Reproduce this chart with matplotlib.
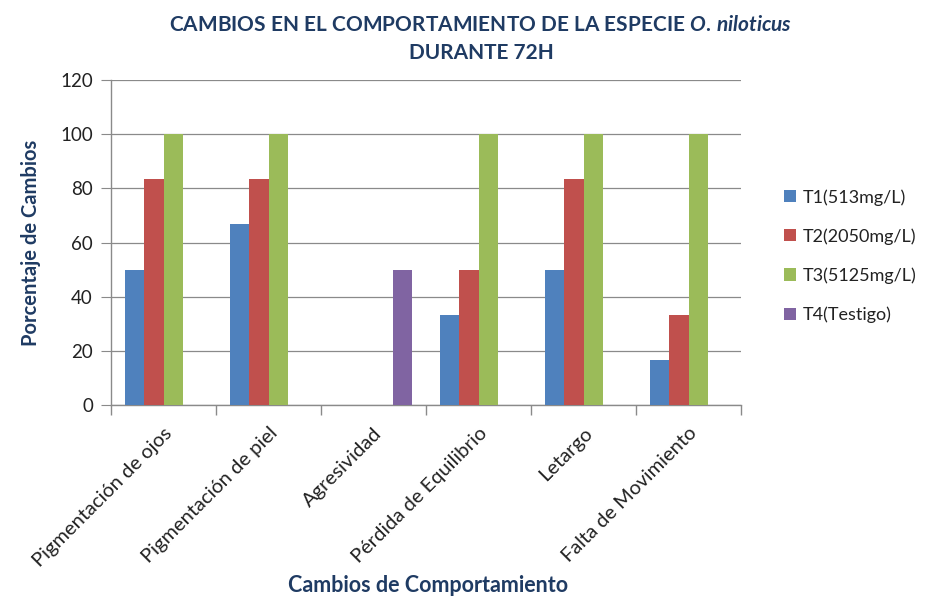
import matplotlib
matplotlib.use("Agg")
import matplotlib.pyplot as plt
import numpy as np

categories = ["Pigmentación de ojos", "Pigmentación de piel", "Agresividad",
              "Pérdida de Equilibrio", "Letargo", "Falta de Movimiento"]
series_names = ["T1(513mg/L)", "T2(2050mg/L)", "T3(5125mg/L)", "T4(Testigo)"]
t1 = [50, 66.7, 0, 33.3, 50, 16.7]
t2 = [83.3, 83.3, 0, 50, 83.3, 33.3]
t3 = [100, 100, 0, 100, 100, 100]
t4 = [0, 0, 50, 0, 0, 0]
yticks = [0, 20, 40, 60, 80, 100, 120]

colors = ["#4F81BD", "#C0504D", "#9BBB59", "#8064A2"]
FONT = "Lato"
plt.rcParams['font.family'] = [FONT, 'DejaVu Sans']
plt.rcParams['mathtext.fontset'] = 'custom'
plt.rcParams['mathtext.it'] = f'{FONT}:italic:bold'
plt.rcParams['mathtext.rm'] = f'{FONT}:bold'

title_color = "#1F3B63"
grid_color = "#8A8A8A"

fig = plt.figure(figsize=(9.31, 5.98), dpi=100)
ax = fig.add_axes([111/931, 1-405/598, (741-111)/931, (405-80)/598])

n = len(series_names)
w = 1/5.5
x = np.arange(len(categories))
for j, vals in enumerate([t1, t2, t3, t4]):
    ax.bar(x + (j - (n-1)/2)*w, vals, width=w, color=colors[j],
           label=series_names[j], zorder=3)

ax.set_xlim(-0.5, len(categories)-0.5)
ax.set_ylim(0, 120)
ax.set_yticks(yticks)
ax.yaxis.grid(True, color=grid_color, linewidth=0.9, zorder=0)
for s in ["top", "right"]:
    ax.spines[s].set_visible(False)
for s in ["left", "bottom"]:
    ax.spines[s].set_color(grid_color)
    ax.spines[s].set_linewidth(1.0)
ax.tick_params(axis='y', length=7, color=grid_color, labelsize=13.5, pad=6,
               labelcolor="#222222")
ax.set_xticks(x)
ax.set_xticklabels(categories, rotation=45, ha='right', rotation_mode='anchor',
                   fontsize=14.5, color="#222222")
ax.tick_params(axis='x', which='major', length=0, pad=14)
ax.set_xticks(np.arange(-0.5, len(categories)), minor=True)
ax.tick_params(axis='x', which='minor', length=7, color=grid_color, width=1.0)

ax.set_ylabel("Porcentaje de Cambios", fontsize=14.5, fontweight='bold',
              color=title_color, labelpad=14)
fig.text(428/931, 1-585/598, "Cambios de Comportamiento", fontsize=15.5,
         fontweight='bold', color=title_color, ha='center', va='center')

fig.text(481/931, 1-25/598,
         r"CAMBIOS EN EL COMPORTAMIENTO DE LA ESPECIE $\mathit{O.\,niloticus}$",
         fontsize=15, fontweight='bold', color=title_color, ha='center', va='center')
fig.text(481/931, 1-53/598, "DURANTE 72H", fontsize=15, fontweight='bold',
         color=title_color, ha='center', va='center')

leg = fig.legend(loc='center left', bbox_to_anchor=(768/931, 1-256/598),
                 frameon=False, fontsize=13, handlelength=0.65, handleheight=0.65,
                 handletextpad=0.4, labelspacing=1.25)
for t in leg.get_texts():
    t.set_color("#222222")

fig.savefig("out.png", dpi=100)
